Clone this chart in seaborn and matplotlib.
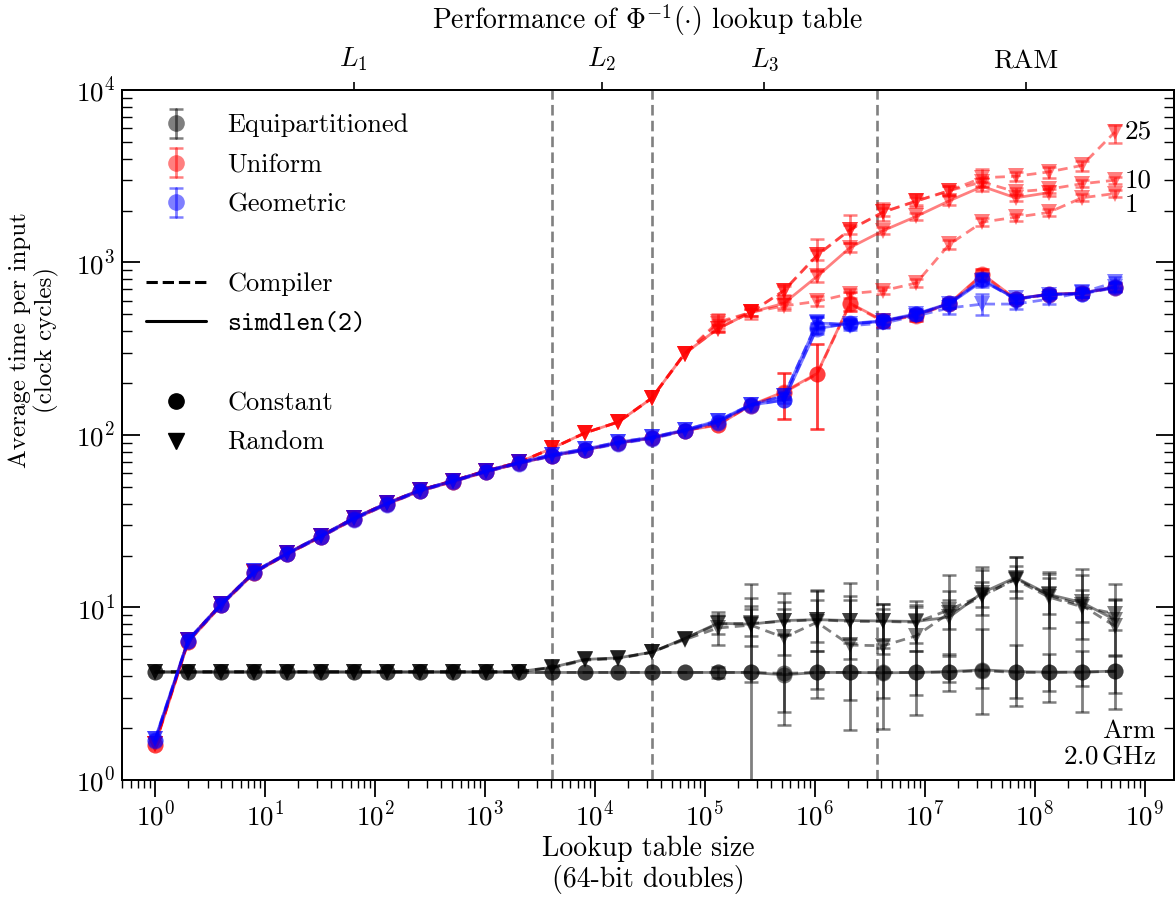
import numpy as np
import matplotlib
matplotlib.use("Agg")
import matplotlib.pyplot as plt
from matplotlib.lines import Line2D
from matplotlib.legend_handler import HandlerBase
from matplotlib.ticker import LogLocator, NullLocator, NullFormatter
import seaborn as sns

nan = np.nan

# Lookup table sizes: 2^0 ... 2^29 doubles
table_size = 2.0 ** np.arange(30)

# Cache boundaries (in doubles) and the memory level that covers each region
cache_edges = [4096, 32768, 3670016]
region_pos = [64, 11585, 346800, 8.3e7]
region_labels = [r"$L_1$", r"$L_2$", r"$L_3$", "RAM"]

# ---- Equipartitioned ----
equi_const_simd = [4.20, 4.20, 4.20, 4.20, 4.20, 4.20, 4.20, 4.20, 4.20, 4.20,
                   4.20, 4.20, 4.20, 4.20, 4.20, 4.20, 4.20, 4.20, 4.20, 4.07,
                   4.20, 4.20, 4.18, 4.20, 4.25, 4.35, 4.25, 4.22, 4.22, 4.28]
equi_const_simd_lo = [nan] * 18 + [0.5, 2.07, 3.38, 1.94, 1.98, 2.37, 3.28, 2.42, 2.70, 2.83, 2.48, 2.59]
equi_const_simd_hi = [nan] * 18 + [13.6, 12.1, 12.5, 13.9, 9.8, 10.9, 15.4, 17.2, 19.7, 16.0, 16.8, 13.6]

equi_const_comp = [4.20, 4.20, 4.20, 4.20, 4.20, 4.20, 4.20, 4.20, 4.20, 4.20,
                   4.20, 4.20, 4.20, 4.20, 4.20, 4.20, 4.20, 4.20, 4.20, 4.15,
                   4.20, 4.20, 4.20, 4.20, 4.22, 4.30, 4.20, 4.20, 4.22, 4.26]
equi_const_comp_lo = [nan] * 17 + [3.9, 3.7, 2.49, 3.0, 2.9, 3.0, 3.1, 3.7, 3.4, 3.0, 3.3, 3.5, 3.2]
equi_const_comp_hi = [nan] * 17 + [4.5, 9.8, 7.0, 5.6, 6.2, 5.8, 5.6, 5.4, 7.5, 6.06, 5.4, 5.6, 5.2]

equi_rand_simd = [4.25, 4.25, 4.25, 4.25, 4.25, 4.25, 4.25, 4.25, 4.25, 4.25,
                  4.25, 4.25, 4.50, 5.00, 5.10, 5.50, 6.60, 8.10, 8.00, 8.40,
                  8.50, 8.40, 8.35, 8.30, 8.80, 12.2, 14.9, 11.9, 10.7, 8.50]
equi_rand_simd_lo = [nan] * 17 + [6.1, 6.0, 5.3, 5.6, 5.0, 5.4, 5.6, 5.2, 9.0, 11.3, 7.6, 6.6, 5.3]
equi_rand_simd_hi = [nan] * 17 + [9.4, 11.4, 10.7, 12.7, 11.6, 10.5, 10.0, 11.0, 16.5, 19.5, 15.6, 15.5, 11.2]

equi_rand_comp_a = [4.25, 4.25, 4.25, 4.25, 4.25, 4.25, 4.25, 4.25, 4.25, 4.25,
                    4.25, 4.25, 4.50, 5.00, 5.10, 5.50, 6.60, 8.00, 8.10, 8.30,
                    8.50, 8.30, 8.30, 8.20, 9.70, 11.8, 14.5, 11.5, 10.1, 9.20]
equi_rand_comp_a_lo = [nan] * 17 + [7.0, 6.8, 6.9, 6.3, 6.6, 6.5, 6.2, 7.5, 10.0, 12.5, 9.2, 8.2, 7.4]
equi_rand_comp_a_hi = [nan] * 17 + [9.0, 10.2, 9.8, 11.0, 11.0, 10.5, 10.3, 12.5, 14.0, 17.5, 14.8, 12.6, 11.0]

equi_rand_comp_b = [4.25, 4.25, 4.25, 4.25, 4.25, 4.25, 4.25, 4.25, 4.25, 4.25,
                    4.25, 4.25, 4.45, 4.95, 5.05, 5.50, 6.50, 7.60, 7.90, 6.70,
                    8.20, 6.05, 6.00, 6.85, 9.30, 11.6, 14.7, 11.8, 10.3, 7.80]

# ---- Uniform ----
uni_const_simd = [1.59, 6.30, 10.3, 15.9, 20.4, 25.6, 32.4, 39.6, 47.3, 53.6,
                  61.2, 68.5, 76.0, 82.0, 90.0, 96.0, 106, 114, 149, 178,
                  227, 580, 460, 495, 580, 857, 615, 656, 665, 720]
uni_const_comp = [1.60, 6.30, 10.3, 15.9, 20.4, 25.6, 32.4, 39.6, 47.3, 53.6,
                  61.2, 68.5, 76.0, 82.0, 90.0, 96.0, 106, 115, 148, 176,
                  225, 575, 455, 492, 575, 850, 612, 652, 662, 716]
uni_const_lo = [nan] * 19 + [123, 109, 520, 420, 460, 545, 790, 580, 620, 630, 680]
uni_const_hi = [nan] * 19 + [228, 338, 673, 500, 530, 615, 920, 650, 690, 700, 760]

uni_rand_simd = [1.62, 6.45, 10.5, 16.1, 20.6, 25.9, 32.9, 40.2, 47.9, 54.3,
                 62.0, 69.5, 83.8, 103, 119, 163, 296, 413, 514, 580,
                 830, 1220, 1530, 1850, 2280, 2760, 2370, 2540]
uni_rand_comp_25 = [1.62, 6.45, 10.5, 16.1, 20.6, 25.9, 32.9, 40.2, 47.9, 54.3,
                    62.0, 69.5, 83.8, 103, 119, 163, 296, 451, 514, 687,
                    1100, 1550, 1960, 2270, 2610, 3100, 3160, 3350, 3650, 5700]
uni_rand_comp_25_lo = [nan] * 17 + [400, 470, 620, 900, 1300, 1750, 2100, 2450, 2750, 2950, 3100, 3400, 4950]
uni_rand_comp_25_hi = [nan] * 17 + [500, 560, 750, 1370, 1880, 2220, 2480, 2770, 3500, 3350, 3600, 3850, 6300]
uni_rand_comp_10 = [1.62, 6.45, 10.5, 16.1, 20.6, 25.9, 32.9, 40.2, 47.9, 54.3,
                    62.0, 69.5, 83.8, 103, 119, 163, 296, 440, 514, 687,
                    1100, 1550, 1960, 2270, 2610, 2930, 2570, 2660, 2860, 3000]
uni_rand_comp_1 = [1.62, 6.45, 10.5, 16.1, 20.6, 25.9, 32.9, 40.2, 47.9, 54.3,
                   62.0, 69.5, 83.8, 103, 119, 163, 296, 413, 514, 560,
                   595, 660, 687, 760, 1275, 1715, 1830, 1950, 2370, 2510]
uni_rand_rel_err = [0] * 17 + [0.05, 0.05, 0.06, 0.07, 0.06, 0.05, 0.05, 0.06, 0.06, 0.05, 0.05, 0.05, 0.05]

# ---- Geometric ----
geo_const_simd = [1.70, 6.40, 10.4, 16.0, 20.5, 25.7, 32.6, 39.8, 47.5, 53.8,
                  61.4, 68.7, 75.7, 81.9, 89.6, 95.7, 106, 119, 149, 159,
                  414, 443, 460, 505, 580, 802, 613, 656, 660, 718]
geo_const_comp = [1.68, 6.35, 10.3, 15.9, 20.4, 25.5, 32.3, 39.5, 47.2, 53.5,
                  61.0, 68.3, 75.3, 81.5, 89.0, 95.2, 105, 118, 148, 160,
                  420, 440, 458, 500, 578, 790, 610, 652, 658, 712]
geo_rand_simd = [1.72, 6.50, 10.5, 16.2, 20.7, 26.0, 33.0, 40.2, 48.0, 54.3,
                 62.0, 69.4, 77.0, 83.0, 91.0, 97.0, 107, 121, 150, 168,
                 445, 440, 455, 500, 575, 780, 620, 650, 665, 725]
geo_rand_comp = [1.72, 6.50, 10.5, 16.2, 20.7, 26.0, 33.0, 40.2, 48.0, 54.3,
                 62.0, 69.4, 77.0, 83.0, 91.0, 97.0, 107, 121, 150, 168,
                 450, 430, 445, 490, 545, 574, 574, 613, 670, 767]
geo_rel_err = [0] * 19 + [0.04, 0.08, 0.05, 0.05, 0.05, 0.06, 0.08, 0.05, 0.05, 0.05, 0.06]
geo_rand_comp_rel_err = [0] * 19 + [0.05, 0.08, 0.06, 0.06, 0.06, 0.08, 0.15, 0.07, 0.07, 0.06, 0.08]

EQUI, UNI, GEO = "black", "red", "blue"
ALPHA = 0.5
FS = 19.5

sns.set_theme(style="ticks")
plt.rcParams.update({
    "font.family": ["cmr10", "DejaVu Sans"],
    "mathtext.fontset": "cm",
    "axes.formatter.use_mathtext": True,
    "font.size": FS,
    "axes.linewidth": 1.4,
    "axes.edgecolor": "black",
    "text.color": "black",
    "axes.labelcolor": "black",
    "xtick.color": "black",
    "ytick.color": "black",
})

fig = plt.figure(figsize=(11.75, 8.99), dpi=100)
ax = fig.add_axes([0.1038, 0.1324, 0.8953, 0.7675])
ax.set_xscale("log")
ax.set_yscale("log")

DASH = (0, (3.5, 2.2))
CAP = 5.2


def series(y, color, ls, marker, z):
    y = np.asarray(y, float)
    sns.lineplot(x=table_size[:len(y)], y=y, ax=ax, color=color, alpha=ALPHA,
                 linewidth=2.0, linestyle=ls, marker=marker, markersize=11.5,
                 markeredgewidth=0, markeredgecolor=color, errorbar=None,
                 legend=False, zorder=z)


def bars(y, lo, hi, color, z):
    y = np.asarray(y, float)
    lo = np.asarray(lo, float)
    hi = np.asarray(hi, float)
    m = np.isfinite(lo) & np.isfinite(hi)
    x = table_size[:len(y)][m]
    ax.errorbar(x, y[m], yerr=[y[m] - lo[m], hi[m] - y[m]], fmt="none",
                ecolor=color, alpha=ALPHA, elinewidth=2.0, capsize=CAP,
                capthick=1.8, zorder=z)


def rel_bars(y, rel, color, z):
    y = np.asarray(y, float)
    r = np.asarray(rel, float)[:len(y)]
    r = np.where(r > 0, r, np.nan)
    bars(y, y / (1 + r), y * (1 + r), color, z)


# cache boundaries
for edge in cache_edges:
    ax.axvline(edge, color="gray", linestyle=(0, (4, 2)), linewidth=1.9, zorder=1)

# Equipartitioned
series(equi_const_simd, EQUI, "-", "o", 3)
series(equi_const_comp, EQUI, DASH, "o", 3)
series(equi_rand_simd, EQUI, "-", "v", 3)
series(equi_rand_comp_a, EQUI, DASH, "v", 3)
series(equi_rand_comp_b, EQUI, DASH, "v", 3)
bars(equi_const_simd, equi_const_simd_lo, equi_const_simd_hi, EQUI, 3)
bars(equi_const_comp, equi_const_comp_lo, equi_const_comp_hi, EQUI, 3)
bars(equi_rand_simd, equi_rand_simd_lo, equi_rand_simd_hi, EQUI, 3)
bars(equi_rand_comp_a, equi_rand_comp_a_lo, equi_rand_comp_a_hi, EQUI, 3)

# Uniform
series(uni_const_simd, UNI, "-", "o", 4)
series(uni_const_comp, UNI, DASH, "o", 4)
series(uni_rand_simd, UNI, "-", "v", 4)
series(uni_rand_comp_25, UNI, DASH, "v", 4)
series(uni_rand_comp_10, UNI, DASH, "v", 4)
series(uni_rand_comp_1, UNI, DASH, "v", 4)
bars(uni_const_simd, uni_const_lo, uni_const_hi, UNI, 4)
bars(uni_const_comp, uni_const_lo, uni_const_hi, UNI, 4)
bars(uni_rand_comp_25, uni_rand_comp_25_lo, uni_rand_comp_25_hi, UNI, 4)
rel_bars(uni_rand_simd, uni_rand_rel_err, UNI, 4)
rel_bars(uni_rand_comp_10, uni_rand_rel_err, UNI, 4)
rel_bars(uni_rand_comp_1, uni_rand_rel_err, UNI, 4)

# Geometric
series(geo_const_simd, GEO, "-", "o", 5)
series(geo_const_comp, GEO, DASH, "o", 5)
series(geo_rand_simd, GEO, "-", "v", 5)
series(geo_rand_comp, GEO, DASH, "v", 5)
rel_bars(geo_const_simd, geo_rel_err, GEO, 5)
rel_bars(geo_rand_simd, geo_rel_err, GEO, 5)
rel_bars(geo_rand_comp, geo_rand_comp_rel_err, GEO, 5)

# labels at the end of the uniform random compiler curves
for vals, lab, dy in [(uni_rand_comp_25, "25", 0), (uni_rand_comp_10, "10", 0),
                      (uni_rand_comp_1, "1", -8)]:
    ax.annotate(lab, xy=(table_size[len(vals) - 1], vals[-1]), xytext=(7, dy),
                textcoords="offset points", ha="left", va="center", fontsize=FS)

ax.text(0.983, 0.016, "Arm\n2.0$\\,$GHz", transform=ax.transAxes, ha="right",
        va="bottom", multialignment="right", fontsize=FS, linespacing=1.1)

# axes, ticks
ax.set_xlim(0.5, 1.85e9)
ax.set_ylim(1, 1e4)
ax.xaxis.set_major_locator(LogLocator(base=10, numticks=20))
ax.xaxis.set_minor_locator(LogLocator(base=10, subs=np.arange(2, 10), numticks=100))
ax.xaxis.set_minor_formatter(NullFormatter())
ax.yaxis.set_major_locator(LogLocator(base=10, numticks=20))
ax.yaxis.set_minor_locator(LogLocator(base=10, subs=np.arange(2, 10), numticks=100))
ax.yaxis.set_minor_formatter(NullFormatter())
ax.tick_params(axis="y", which="both", direction="in", left=True, right=True,
               labelright=False, labelsize=FS, pad=5)
ax.tick_params(axis="y", which="major", length=13, width=1.3)
ax.tick_params(axis="y", which="minor", length=7, width=1.0)
ax.tick_params(axis="x", which="both", direction="out", top=False, labelsize=FS, pad=3)
ax.tick_params(axis="x", which="major", length=12.5, width=1.3)
ax.tick_params(axis="x", which="minor", length=6, width=1.0)

ax.set_xlabel("Lookup table size\n(64-bit doubles)", fontsize=20, linespacing=1.15, labelpad=3)
ax.set_ylabel("Average time per input\n(clock cycles)", fontsize=18, linespacing=1.15)
ax.yaxis.set_label_coords(-0.060, 0.638)

top = ax.twiny()
top.set_xscale("log")
top.set_xlim(ax.get_xlim())
top.set_xticks(region_pos)
top.set_xticklabels(region_labels)
top.xaxis.set_minor_locator(NullLocator())
top.yaxis.set_visible(False)
top.tick_params(axis="x", which="major", direction="out", length=6, width=1.2,
                labelsize=FS, pad=6)
top.set_title(r"Performance of $\Phi^{-1}(\cdot)$ lookup table", fontsize=20, pad=12)


# legend: marker with an error bar and caps for each distribution
class ErrorbarKey(HandlerBase):
    def create_artists(self, legend, orig_handle, xdescent, ydescent, width,
                       height, fontsize, trans):
        color = orig_handle.get_color()
        cx = width / 2 - xdescent
        cy = height / 2 - ydescent
        half = 0.55 * fontsize
        bar = Line2D([cx, cx], [cy - half, cy + half], color=color, alpha=ALPHA,
                     linewidth=2.0)
        caps = Line2D([cx, cx], [cy - half, cy + half], linestyle="none",
                      marker="_", markersize=2 * CAP, markeredgewidth=1.8,
                      color=color, alpha=ALPHA)
        dot = Line2D([cx], [cy], linestyle="none", marker="o", markersize=12,
                     markeredgewidth=0, color=color, alpha=ALPHA)
        for a in (bar, caps, dot):
            a.set_transform(trans)
        return [bar, caps, dot]


dist_keys = [Line2D([], [], color=c) for c in (EQUI, UNI, GEO)]
blank = Line2D([], [], linestyle="none", marker=None)
handles = dist_keys + [blank,
                       Line2D([], [], color="black", linestyle="--", linewidth=2.2),
                       Line2D([], [], color="black", linestyle="-", linewidth=2.2), blank,
                       Line2D([], [], color="black", linestyle="none", marker="o", markersize=11),
                       Line2D([], [], color="black", linestyle="none", marker="v", markersize=11)]
labels = ["Equipartitioned", "Uniform", "Geometric", " ", "Compiler",
          "simdlen(2)", " ", "Constant", "Random"]
leg = ax.legend(handles, labels, loc="upper left", frameon=False, fontsize=19,
                handlelength=2.3, handletextpad=0.8, labelspacing=0.6,
                borderaxespad=0.5, borderpad=0.4,
                handler_map={k: ErrorbarKey() for k in dist_keys})
leg.get_texts()[5].set_fontfamily("cmtt10")

fig.savefig("out.png", dpi=100)
